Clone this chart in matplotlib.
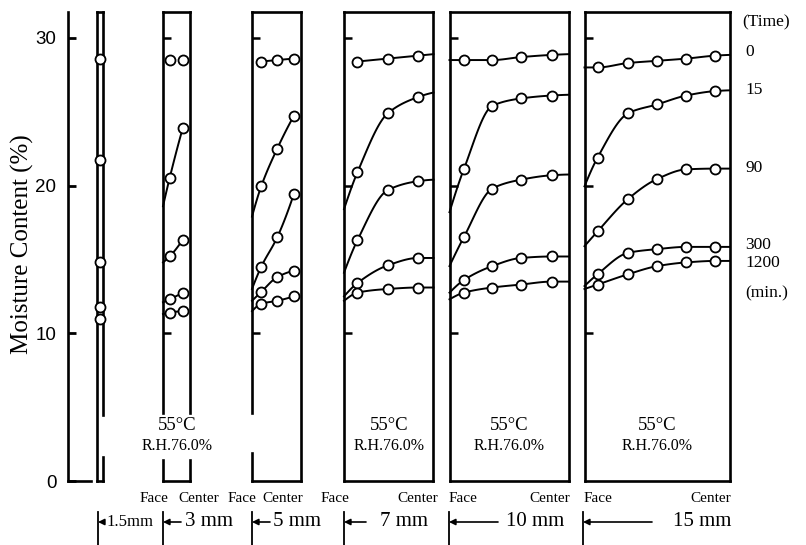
import numpy as np
import matplotlib
matplotlib.use("Agg")
import matplotlib.pyplot as plt

# ---------------- data ----------------
times = ["0", "15", "90", "300", "1200"]
thickness_labels = ["1.5mm", "3 mm", "5 mm", "7 mm", "10 mm", "15 mm"]

# relative slice positions (0 = face, 1 = center)
pos_1p5 = [0.5]
pos_3 = [0.24, 0.72]
pos_5 = [0.19, 0.52, 0.86]
pos_7 = [0.15, 0.49, 0.83]
pos_10 = [0.12, 0.36, 0.60, 0.86]
pos_15 = [0.09, 0.30, 0.50, 0.70, 0.90]

# moisture content (%) per time (rows) and slice (columns)
mc_1p5 = [[28.6], [21.7], [14.8], [11.8], [11.0]]
mc_3 = [[28.5, 28.5], [20.5, 23.9], [15.2, 16.35], [12.3, 12.75], [11.4, 11.5]]
mc_5 = [[28.4, 28.5, 28.6], [19.95, 22.5, 24.7], [14.5, 16.5, 19.4],
        [12.8, 13.8, 14.2], [12.0, 12.2, 12.5]]
mc_7 = [[28.4, 28.6, 28.8], [20.9, 24.9, 26.0], [16.3, 19.7, 20.3],
        [13.4, 14.6, 15.1], [12.75, 13.0, 13.1]]
mc_10 = [[28.5, 28.5, 28.7, 28.85], [21.1, 25.4, 25.9, 26.1],
         [16.5, 19.8, 20.4, 20.7], [13.6, 14.55, 15.1, 15.2],
         [12.75, 13.1, 13.3, 13.5]]
mc_15 = [[28.0, 28.3, 28.45, 28.6, 28.8], [21.9, 24.9, 25.5, 26.1, 26.4],
         [16.9, 19.1, 20.45, 21.1, 21.15], [14.0, 15.45, 15.7, 15.85, 15.85],
         [13.3, 14.0, 14.55, 14.8, 14.9]]

# curve values at the face surface (None = no curve to the face)
surf_3 = [None, 18.6, 14.8, 12.1, 11.3]
surf_5 = [None, 17.9, 13.0, 12.2, 11.5]
surf_7 = [None, 18.4, 14.1, 12.5, 12.2]
surf_10 = [28.5, 18.2, 14.55, 12.75, 12.3]
surf_15 = [28.0, 19.95, 15.9, 13.2, 13.0]

# curve values at the center edge (None = curve stops at last point)
edge_3 = [None] * 5
edge_5 = [None] * 5
edge_7 = [28.9, 26.3, 20.4, 15.1, 13.1]
edge_10 = [28.9, 26.15, 20.75, 15.2, 13.5]
edge_15 = [28.85, 26.45, 21.15, 15.85, 14.9]

y_ticks = [0, 10, 20, 30]

# ---------------- layout ----------------
W, H = 806, 545
Y0_PX, YTOP_PX = 481, 12
YMAX = (Y0_PX - YTOP_PX) / 14.77

SERIF = ["Liberation Serif", "DejaVu Serif"]
SANS = ["Liberation Sans", "DejaVu Sans"]
LW_BOX = 1.9
LW_DATA = 1.4

fig = plt.figure(figsize=(W / 100, H / 100), dpi=100)


def ax_at(left, right):
    return fig.add_axes([left / W, 1 - Y0_PX / H, (right - left) / W,
                         (Y0_PX - YTOP_PX) / H])


def pchip(x, y, n=80):
    x = np.asarray(x, float)
    y = np.asarray(y, float)
    if len(x) < 3:
        xs = np.linspace(x[0], x[-1], n)
        return xs, np.interp(xs, x, y)
    h = np.diff(x)
    d = np.diff(y) / h
    m = np.zeros_like(y)
    for k in range(1, len(x) - 1):
        if d[k - 1] * d[k] > 0:
            w1 = 2 * h[k] + h[k - 1]
            w2 = h[k] + 2 * h[k - 1]
            m[k] = (w1 + w2) / (w1 / d[k - 1] + w2 / d[k])

    def end(h0, h1, d0, d1):
        v = ((2 * h0 + h1) * d0 - h0 * d1) / (h0 + h1)
        if np.sign(v) != np.sign(d0):
            return 0.0
        if np.sign(d0) != np.sign(d1) and abs(v) > abs(3 * d0):
            return 3 * d0
        return v

    m[0] = end(h[0], h[1], d[0], d[1])
    m[-1] = end(h[-1], h[-2], d[-1], d[-2])
    xs = np.linspace(x[0], x[-1], n)
    k = np.clip(np.searchsorted(x, xs) - 1, 0, len(x) - 2)
    t = (xs - x[k]) / h[k]
    h00 = 2 * t**3 - 3 * t**2 + 1
    h10 = t**3 - 2 * t**2 + t
    h01 = -2 * t**3 + 3 * t**2
    h11 = t**3 - t**2
    ys = h00 * y[k] + h10 * h[k] * m[k] + h01 * y[k + 1] + h11 * h[k] * m[k + 1]
    return xs, ys


# main y axis
main = ax_at(67.5, 91)
main.set_ylim(0, YMAX)
main.set_xlim(0, 1)
for s in ("top", "right"):
    main.spines[s].set_visible(False)
for s in ("left", "bottom"):
    main.spines[s].set_linewidth(LW_BOX)
main.set_xticks([])
main.set_yticks(y_ticks)
main.set_yticklabels([str(t) for t in y_ticks], family=SANS, fontsize=13.5)
main.tick_params(axis="y", direction="in", length=6, width=2, pad=8)
main.patch.set_alpha(0)
fig.text(22 / W, 1 - 244 / H, "Moisture Content (%)", rotation=90,
         ha="center", va="center", family=SERIF, fontsize=18)

# panels: (left px, right px, positions, values, surface, edge, ticks,
#          left-side gap, right-side gap, condition text?)
gap_text = (1.4, 4.6)
panels = [
    (97, 103.5, pos_1p5, mc_1p5, [None] * 5, [None] * 5, [], None, (1.6, 4.5), False),
    (163, 190.5, pos_3, mc_3, surf_3, edge_3, [10, 30], gap_text, gap_text, True),
    (252, 300.5, pos_5, mc_5, surf_5, edge_5, [10, 30], (1.9, 4.6), None, False),
    (344, 433.5, pos_7, mc_7, surf_7, edge_7, [10, 20, 30], None, None, True),
    (449.5, 568.5, pos_10, mc_10, surf_10, edge_10, [10, 20, 30], None, None, True),
    (584.5, 730, pos_15, mc_15, surf_15, edge_15, [10, 20, 30], None, None, True),
]

face_center_px = [None, (154, 199), (242, 283), (335, 418), (463, 550), (598, 711)]

for i, (l, r, pos, vals, surf, edge, ticks, gl, gr, cond) in enumerate(panels):
    ax = ax_at(l, r)
    ax.set_xlim(0, 1)
    ax.set_ylim(0, YMAX)
    ax.patch.set_alpha(0)
    for s in ("left", "right"):
        ax.spines[s].set_visible(False)
    for s in ("top", "bottom"):
        ax.spines[s].set_linewidth(LW_BOX)
    ax.set_xticks([])
    ax.set_yticks(ticks)
    ax.tick_params(axis="y", direction="in", length=6, width=1.8,
                   labelleft=False, left=True)
    tr = ax.get_yaxis_transform()
    for xs, gap in ((0, gl), (1, gr)):
        if gap is None:
            segs = [(0, YMAX)]
        else:
            segs = [(0, gap[0]), (gap[1], YMAX)]
        for a, b in segs:
            ax.plot([xs, xs], [a, b], transform=tr, color="k", lw=LW_BOX,
                    clip_on=False, solid_capstyle="projecting")
    for row in range(len(times)):
        xn = list(pos)
        yn = list(vals[row])
        if surf[row] is not None:
            xn = [0.0] + xn
            yn = [surf[row]] + yn
        if edge[row] is not None:
            xn = xn + [1.0]
            yn = yn + [edge[row]]
        if len(xn) >= 2 and not (i == 1 and row == 0):
            cx, cy = pchip(xn, yn)
            ax.plot(cx, cy, color="k", lw=LW_DATA, clip_on=False, zorder=2)
        ax.plot(pos, vals[row], "o", mfc="white", mec="k", ms=7.2, mew=1.3,
                clip_on=False, zorder=3)
    if cond:
        cx = (l + r) / 2
        fig.text(cx / W, 1 - 426 / H, "55°C", ha="center", va="center",
                 family=SERIF, fontsize=13.5)
        fig.text(cx / W, 1 - 446 / H, "R.H.76.0%", ha="center", va="center",
                 family=SERIF, fontsize=11.5)
    if face_center_px[i] is not None:
        fx, cxp = face_center_px[i]
        fig.text(fx / W, 1 - 499 / H, "Face", ha="center", va="center",
                 family=SERIF, fontsize=11)
        fig.text(cxp / W, 1 - 499 / H, "Center", ha="center", va="center",
                 family=SERIF, fontsize=11)

# thickness labels with arrows
ov = fig.add_axes([0, 0, 1, 1])
ov.set_xlim(0, W)
ov.set_ylim(H, 0)
ov.axis("off")
bar_x = [98, 163, 252, 344, 449, 583]
arrow_end = [104, 181, 270, 366, 498, 652]
label_x = [106, 185, 273, 380, 506, 673]
label_fs = [12, 15, 15, 15, 15, 15]
for bx, ae, lx, fs, lab in zip(bar_x, arrow_end, label_x, label_fs, thickness_labels):
    ov.plot([bx, bx], [512, 545], color="k", lw=1.3)
    ov.annotate("", xy=(bx, 522), xytext=(ae, 522),
                arrowprops=dict(arrowstyle="-|>", color="k", lw=1.2,
                                mutation_scale=9, shrinkA=0, shrinkB=0))
    ov.text(lx, 522, lab, ha="left", va="center", family=SERIF, fontsize=fs)

# time legend on the right
time_y = [52, 90, 168, 245, 263]
ov.text(742, 22, "(Time)", ha="left", va="center", family=SERIF, fontsize=12.5)
for t, ty in zip(times, time_y):
    ov.text(745, ty, t, ha="left", va="center", family=SERIF, fontsize=12.5)
ov.text(745, 293, "(min.)", ha="left", va="center", family=SERIF, fontsize=12.5)

fig.savefig("out.png", dpi=100)
